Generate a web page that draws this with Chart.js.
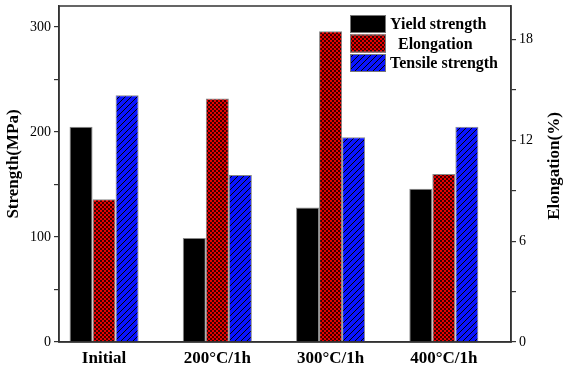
<!DOCTYPE html>
<html>
<head>
<meta charset="utf-8">
<script src="https://cdn.jsdelivr.net/npm/chart.js@4"></script>
<style>
  html, body { margin: 0; padding: 0; background: #fff; }
  #wrap { width: 564px; height: 370px; }
</style>
</head>
<body>
<div id="wrap"><canvas id="strengthChart" width="564" height="370"></canvas></div>
<script>
// categories and values
const categories = ["Initial", "200\u00B0C/1h", "300\u00B0C/1h", "400\u00B0C/1h"];
const yieldStrength = [205, 99, 128, 146];
const elongation = [8.5, 14.5, 18.5, 10.0];
const tensileStrength = [235, 159, 195, 205];
const seriesNames = ["Yield strength", "Elongation", "Tensile strength"];

// bar fill patterns
function redCheck() {
    const c = document.createElement("canvas");
    c.width = 4; c.height = 4;
    const g = c.getContext("2d");
    g.fillStyle = "#e80000";
    g.fillRect(0, 0, 4, 4);
    g.fillStyle = "#3a0000";
    g.fillRect(0, 0, 2, 2);
    g.fillRect(2, 2, 2, 2);
    return g.createPattern(c, "repeat");
}
function blueHatch() {
    const c = document.createElement("canvas");
    c.width = 6; c.height = 6;
    const g = c.getContext("2d");
    g.fillStyle = "#0a14ff";
    g.fillRect(0, 0, 6, 6);
    g.strokeStyle = "#000";
    g.lineWidth = 1;
    g.beginPath();
    g.moveTo(-1, 7); g.lineTo(7, -1);
    g.moveTo(-1, 1); g.lineTo(1, -1);
    g.moveTo(5, 7); g.lineTo(7, 5);
    g.stroke();
    return g.createPattern(c, "repeat");
}

const serif = "'Liberation Serif', 'Times New Roman', serif";

const toPoints = arr => arr.map((v, i) => ({ x: i + 1, y: v }));

// frame, axis titles and legend
const extras = {
    id: "extras",
    afterDraw(chart) {
        const ctx = chart.ctx;
        const a = chart.chartArea;
        ctx.save();
        ctx.strokeStyle = "#333";
        ctx.lineWidth = 1.5;
        ctx.strokeRect(a.left, a.top, a.right - a.left, a.bottom - a.top);

        ctx.fillStyle = "#000";
        ctx.font = "bold 17px " + serif;
        ctx.textAlign = "center";
        ctx.textBaseline = "middle";
        ctx.save();
        ctx.translate(14, 164);
        ctx.rotate(-Math.PI / 2);
        ctx.fillText("Strength(MPa)", 0, 0);
        ctx.restore();
        ctx.save();
        ctx.translate(555, 166);
        ctx.rotate(-Math.PI / 2);
        ctx.fillText("Elongation(%)", 0, 0);
        ctx.restore();

        // legend
        const lx = 350, ly = 15, bw = 36, bh = 18, step = 19.5;
        ctx.font = "bold 16px " + serif;
        ctx.textAlign = "left";
        chart.data.datasets.forEach((ds, i) => {
            const y = ly + i * step;
            ctx.fillStyle = ds.backgroundColor;
            ctx.fillRect(lx, y, bw, bh);
            ctx.strokeStyle = "#777";
            ctx.lineWidth = 1;
            ctx.strokeRect(lx + 0.5, y + 0.5, bw - 1, bh - 1);
            ctx.fillStyle = "#000";
            const tx = i === 1 ? lx + 48 : lx + 40;
            ctx.fillText(ds.label, tx, y + bh / 2 + 1);
        });
        ctx.restore();
    }
};

const noPad = s => { s.paddingTop = 0; s.paddingBottom = 0; };

const ctx = document.getElementById("strengthChart");
new Chart(ctx, {
    type: "bar",
    data: {
        datasets: [{
            label: seriesNames[0],
            data: toPoints(yieldStrength),
            backgroundColor: "#000",
            borderColor: "#888",
            borderWidth: 1,
            yAxisID: "y"
        }, {
            label: seriesNames[1],
            data: toPoints(elongation),
            backgroundColor: redCheck(),
            borderColor: "#888",
            borderWidth: 1,
            yAxisID: "y2"
        }, {
            label: seriesNames[2],
            data: toPoints(tensileStrength),
            backgroundColor: blueHatch(),
            borderColor: "#888",
            borderWidth: 1,
            yAxisID: "y"
        }]
    },
    options: {
        responsive: false,
        animation: false,
        layout: { padding: { top: 6, left: 0, right: 0, bottom: 0 } },
        plugins: { legend: { display: false }, tooltip: { enabled: false } },
        datasets: { bar: { categoryPercentage: 0.61, barPercentage: 1.0 } },
        scales: {
            x: {
                type: "linear",
                min: 0.602,
                max: 4.593,
                offset: false,
                afterBuildTicks: s => { s.ticks = categories.map((c, i) => ({ value: i + 1 })); },
                afterFit: s => { s.height = 28; s.paddingLeft = 0; s.paddingRight = 0; },
                grid: { display: false, drawTicks: false },
                border: { display: true, color: "#333", width: 1.5 },
                ticks: {
                    padding: 6,
                    color: "#000",
                    font: { family: serif, size: 17, weight: "bold" },
                    callback: v => categories[Math.round(v) - 1] || ""
                }
            },
            y: {
                position: "left",
                min: 0,
                max: 320,
                afterFit: s => { s.width = 59; noPad(s); },
                grid: { drawOnChartArea: false, drawTicks: true, tickLength: 5, color: "#333", lineWidth: 1.2 },
                border: { color: "#333", width: 1.5 },
                ticks: {
                    stepSize: 50,
                    includeBounds: false,
                    padding: 3,
                    color: "#000",
                    font: { family: serif, size: 14 },
                    callback: v => (v % 100 === 0 ? v : "")
                }
            },
            y2: {
                position: "right",
                min: 0,
                max: 20,
                afterFit: s => { s.width = 53; noPad(s); },
                grid: { drawOnChartArea: false, drawTicks: true, tickLength: 5, color: "#333", lineWidth: 1.2 },
                border: { color: "#333", width: 1.5 },
                ticks: {
                    stepSize: 3,
                    includeBounds: false,
                    padding: 3,
                    color: "#000",
                    font: { family: serif, size: 14 },
                    callback: v => (v % 6 === 0 ? v : "")
                }
            }
        }
    },
    plugins: [extras]
});
</script>
</body>
</html>
